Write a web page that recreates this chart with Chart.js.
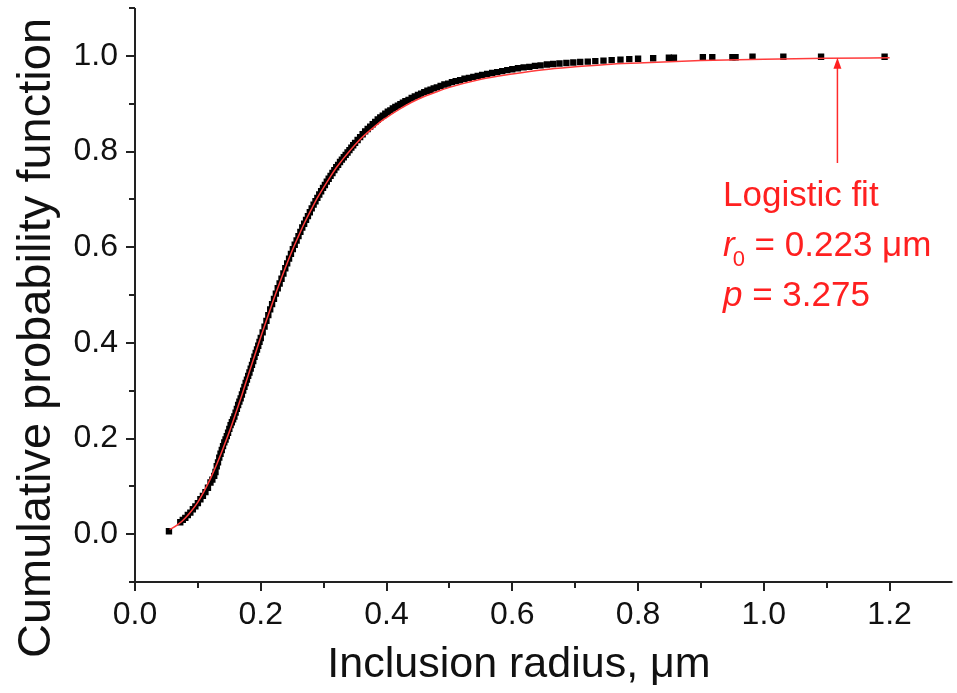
<!DOCTYPE html>
<html><head><meta charset="utf-8">
<script src="https://cdn.jsdelivr.net/npm/chart.js@4.4.1/dist/chart.umd.min.js"></script>
<style>html,body{margin:0;padding:0;background:#fff;}#wrap{width:957px;height:693px;position:relative;}</style>
</head><body><div id="wrap"><canvas id="c" width="957" height="693"></canvas></div>
<script>
// Empirical CDF (black squares)
const dataX = [0.054,0.072,0.076,0.080,0.084,0.088,0.092,0.096,0.100,0.104,0.108,0.112,0.116,0.120,0.123,0.126,0.128,0.130,0.132,0.134,0.136,0.138,0.140,0.142,0.144,0.146,0.148,0.150,0.152,0.154,0.156,0.158,0.160,0.162,0.164,0.166,0.168,0.170,0.172,0.174,0.176,0.178,0.180,0.182,0.184,0.186,0.188,0.190,0.192,0.194,0.196,0.198,0.200,0.203,0.206,0.209,0.212,0.215,0.218,0.221,0.224,0.227,0.230,0.233,0.236,0.239,0.242,0.245,0.248,0.251,0.254,0.257,0.260,0.263,0.266,0.269,0.272,0.275,0.278,0.281,0.284,0.287,0.290,0.293,0.296,0.299,0.302,0.305,0.308,0.311,0.314,0.317,0.320,0.323,0.326,0.329,0.332,0.335,0.338,0.341,0.344,0.347,0.350,0.354,0.358,0.362,0.366,0.370,0.374,0.378,0.382,0.386,0.390,0.394,0.398,0.402,0.406,0.410,0.414,0.418,0.422,0.426,0.430,0.435,0.440,0.445,0.450,0.455,0.460,0.465,0.470,0.475,0.480,0.486,0.492,0.498,0.504,0.510,0.517,0.524,0.531,0.538,0.545,0.552,0.560,0.568,0.576,0.584,0.592,0.600,0.609,0.618,0.627,0.636,0.645,0.655,0.665,0.675,0.686,0.697,0.708,0.720,0.732,0.745,0.758,0.772,0.786,0.800,0.824,0.849,0.857,0.903,0.918,0.950,0.955,0.982,1.031,1.091,1.192];
const dataY = [0.006,0.025,0.030,0.034,0.040,0.045,0.052,0.058,0.065,0.073,0.080,0.088,0.097,0.108,0.114,0.122,0.130,0.142,0.150,0.160,0.168,0.176,0.184,0.192,0.198,0.205,0.212,0.220,0.228,0.234,0.240,0.246,0.254,0.262,0.270,0.277,0.284,0.292,0.300,0.308,0.316,0.323,0.331,0.338,0.346,0.354,0.362,0.371,0.379,0.386,0.394,0.402,0.410,0.422,0.434,0.446,0.458,0.470,0.481,0.492,0.503,0.514,0.524,0.534,0.545,0.556,0.566,0.576,0.586,0.596,0.605,0.614,0.623,0.632,0.641,0.649,0.657,0.665,0.673,0.681,0.689,0.696,0.703,0.710,0.717,0.724,0.730,0.737,0.743,0.749,0.755,0.761,0.767,0.772,0.778,0.783,0.788,0.793,0.798,0.803,0.808,0.813,0.818,0.824,0.830,0.836,0.842,0.847,0.852,0.857,0.862,0.867,0.871,0.875,0.879,0.883,0.886,0.890,0.893,0.896,0.899,0.902,0.905,0.908,0.912,0.915,0.918,0.921,0.924,0.927,0.929,0.932,0.934,0.937,0.940,0.942,0.945,0.947,0.949,0.952,0.954,0.956,0.958,0.960,0.962,0.964,0.966,0.968,0.970,0.972,0.974,0.976,0.977,0.979,0.980,0.982,0.983,0.984,0.985,0.986,0.987,0.988,0.989,0.990,0.991,0.992,0.993,0.994,0.995,0.996,0.996,0.997,0.997,0.997,0.997,0.998,0.998,0.998,0.998];
// Logistic fit (red line)
const fitX = [0.055,0.06,0.07,0.08,0.09,0.10,0.11,0.12,0.13,0.14,0.15,0.16,0.17,0.18,0.19,0.20,0.21,0.22,0.23,0.24,0.25,0.26,0.27,0.28,0.29,0.30,0.31,0.32,0.33,0.34,0.35,0.36,0.37,0.38,0.39,0.40,0.42,0.44,0.46,0.48,0.50,0.55,0.60,0.65,0.70,0.75,0.80,0.90,1.00,1.10,1.20];
const fitY = [0.010,0.013,0.022,0.034,0.049,0.067,0.090,0.116,0.146,0.179,0.214,0.252,0.291,0.332,0.372,0.412,0.451,0.489,0.525,0.560,0.593,0.623,0.652,0.678,0.703,0.725,0.746,0.766,0.783,0.799,0.814,0.828,0.840,0.851,0.862,0.871,0.888,0.903,0.915,0.925,0.934,0.951,0.962,0.971,0.977,0.982,0.985,0.990,0.993,0.995,0.996];
// Axis ticks
const xTickLabels = ['0.0','0.2','0.4','0.6','0.8','1.0','1.2'];
const yTickLabels = ['0.0','0.2','0.4','0.6','0.8','1.0'];
// Annotation
const arrowX = 1.117, arrowY0 = 0.776, arrowY1 = 0.996;
const noteLines = ['Logistic fit', ' = 0.223 \u03bcm', ' = 3.275'];

const pts = dataX.map((x,i)=>({x:x,y:dataY[i]}));
const fitPts = fitX.map((x,i)=>({x:x,y:fitY[i]}));
const FONT = '"Liberation Sans", Arial, sans-serif';

const deco = {
  id:'deco',
  afterDraw(chart){
    const ctx = chart.ctx, xs = chart.scales.x, ys = chart.scales.y;
    const a = chart.chartArea;
    ctx.save();
    ctx.strokeStyle = '#222'; ctx.lineWidth = 2;
    ctx.beginPath(); ctx.moveTo(a.left, a.top); ctx.lineTo(a.left, a.bottom); ctx.lineTo(a.right, a.bottom); ctx.stroke();
    for (let i=0;i<=12;i++){
      const v = i/10, px = Math.round(xs.getPixelForValue(v));
      const len = (i%2===0)?9:6;
      ctx.beginPath(); ctx.moveTo(px, a.bottom); ctx.lineTo(px, a.bottom+len); ctx.stroke();
    }
    for (let i=-1;i<=11;i++){
      const v = i/10, py = Math.round(ys.getPixelForValue(v));
      const len = (i%2===0 && i>=0)?9:6;
      ctx.beginPath(); ctx.moveTo(a.left, py); ctx.lineTo(a.left-len, py); ctx.stroke();
    }
    ctx.fillStyle = '#111';
    ctx.font = '32px ' + FONT;
    ctx.textAlign = 'center'; ctx.textBaseline = 'middle';
    xTickLabels.forEach(t=>{ ctx.fillText(t, xs.getPixelForValue(parseFloat(t)), a.bottom+33); });
    ctx.textAlign = 'right';
    yTickLabels.forEach(t=>{ ctx.fillText(t, a.left-17, ys.getPixelForValue(parseFloat(t))); });
    ctx.textAlign = 'center';
    ctx.font = '43px ' + FONT;
    ctx.fillText('Inclusion radius, \u03bcm', 519, 665);
    ctx.save();
    ctx.translate(37, 338); ctx.rotate(-Math.PI/2);
    ctx.font = '47px ' + FONT;
    ctx.fillText('Cumulative probability function', 0, 0);
    ctx.restore();
    // annotation arrow
    const ax = xs.getPixelForValue(arrowX);
    const ayb = ys.getPixelForValue(arrowY0), ayt = ys.getPixelForValue(arrowY1);
    ctx.strokeStyle = '#ff2a2a'; ctx.fillStyle = '#ff2020'; ctx.lineWidth = 1.5;
    ctx.beginPath(); ctx.moveTo(ax, ayb); ctx.lineTo(ax, ayt+8); ctx.stroke();
    ctx.beginPath(); ctx.moveTo(ax, ayt); ctx.lineTo(ax-4, ayt+11); ctx.lineTo(ax+4, ayt+11); ctx.closePath(); ctx.fill();
    // annotation text
    ctx.textAlign = 'left'; ctx.textBaseline = 'alphabetic';
    const fs = 35;
    ctx.font = fs + 'px ' + FONT;
    const tx = 723;
    ctx.fillText(noteLines[0], tx, 206);
    ctx.font = 'italic ' + fs + 'px ' + FONT;
    ctx.fillText('r', tx, 256);
    let w = ctx.measureText('r').width;
    ctx.font = '22px ' + FONT;
    ctx.fillText('0', tx + w - 2, 266);
    const w0 = ctx.measureText('0').width;
    ctx.font = fs + 'px ' + FONT;
    ctx.fillText(noteLines[1], tx + w - 2 + w0, 256);
    ctx.font = 'italic ' + fs + 'px ' + FONT;
    ctx.fillText('p', tx, 306);
    w = ctx.measureText('p').width;
    ctx.font = fs + 'px ' + FONT;
    ctx.fillText(noteLines[2], tx + w, 306);
    ctx.restore();
  }
};

new Chart(document.getElementById('c'), {
  type:'scatter',
  data:{ datasets:[
    { label:'Logistic fit', data: fitPts, showLine:true, borderColor:'#ff3b3b', borderWidth:1.5, pointRadius:0, cubicInterpolationMode:'monotone', fill:false },
    { label:'Data', data: pts, pointStyle:'rect', pointRadius:4.5, backgroundColor:'#000', borderColor:'#000', borderWidth:0, showLine:false }
  ]},
  options:{
    responsive:false, animation:false, devicePixelRatio:1,
    layout:{ padding:{ left:0, right:0, top:8, bottom:0 } },
    plugins:{ legend:{display:false}, tooltip:{enabled:false} },
    scales:{
      x:{ type:'linear', min:0, max:1.3, grid:{display:false, drawTicks:false}, border:{display:false}, ticks:{display:false},
          afterFit(s){ s.height = 111; } },
      y:{ type:'linear', min:-0.1, max:1.1, grid:{display:false, drawTicks:false}, border:{display:false}, ticks:{display:false},
          afterFit(s){ s.width = 135; } }
    }
  },
  plugins:[deco]
});
</script></body></html>
